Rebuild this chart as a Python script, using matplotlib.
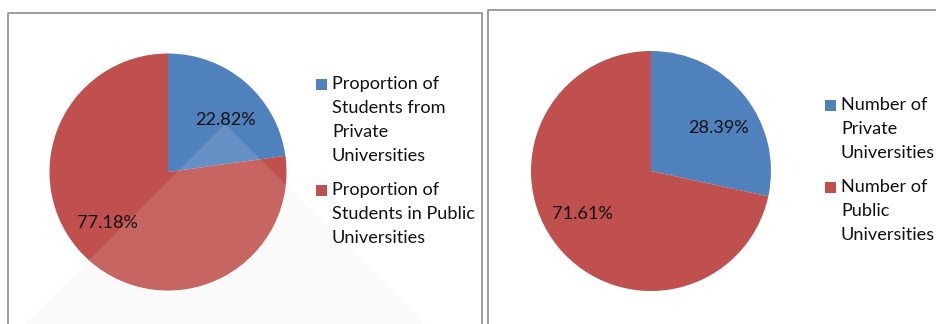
import numpy as np
import matplotlib
matplotlib.use('Agg')
import matplotlib.pyplot as plt
from matplotlib.patches import Polygon, Circle, Rectangle

plt.rcParams['font.family'] = ['Lato', 'DejaVu Sans']

# data
studentLabels = ['Proportion of\nStudents from\nPrivate\nUniversities',
                 'Proportion of\nStudents in Public\nUniversities']
studentShares = [22.82, 77.18]
univLabels = ['Number of\nPrivate\nUniversities',
              'Number of\nPublic\nUniversities']
univShares = [28.39, 71.61]
colors = ['#4F81BD', '#C0504D']

W, H = 937, 324
FS = 13.1
fig = plt.figure(figsize=(W/100, H/100), dpi=100)

def pixelAxes(z):
    a = fig.add_axes([0, 0, 1, 1], zorder=z)
    a.set_xlim(0, W)
    a.set_ylim(H, 0)
    a.axis('off')
    return a

bg = pixelAxes(0)
top = pixelAxes(5)

# panel borders (pixel coords)
bc = '#8c8c8c'
bg.plot([8.5, 8.5, 482, 482], [H, 12.5, 12.5, H], color=bc, lw=1.2)
bg.plot([488.5, 488.5, W], [H, 9.5, 9.5], color=bc, lw=1.2)

# faint glare shadow behind the left pie
apex = (225, 124)
glare = Polygon([apex, (apex[0] - 300, apex[1] + 300), (apex[0], apex[1] + 600),
                 (apex[0] + 300, apex[1] + 300)], closed=True,
                facecolor='#fafafa', edgecolor='none', zorder=0)
bg.add_patch(glare)
glare.set_clip_path(Rectangle((9, 13), 472, 320, transform=bg.transData))

def drawPie(cx, cy, r, shares, pctPos, glareApex=None):
    ax = fig.add_axes([(cx - r)/W, (H - cy - r)/H, 2*r/W, 2*r/H], zorder=2)
    wedges, _ = ax.pie(shares, colors=colors, startangle=90, counterclock=False,
                       radius=1, wedgeprops=dict(linewidth=0))
    ax.set_xlim(-1, 1)
    ax.set_ylim(-1, 1)
    ax.axis('off')
    if glareApex is not None:
        gx = (glareApex[0] - cx)/r
        gy = (cy - glareApex[1])/r
        d = 4
        poly = Polygon([(gx, gy), (gx - d, gy - d), (gx, gy - 2*d), (gx + d, gy - d)],
                       closed=True, facecolor='white', alpha=0.12, edgecolor='none', zorder=3)
        ax.add_patch(poly)
        poly.set_clip_path(Circle((0, 0), 1, transform=ax.transData))
    for s, (px, py) in zip(shares, pctPos):
        top.text(px, py, '%.2f%%' % s, ha='center', va='center', fontsize=FS, color='#111111')

def drawLegend(x, ys, labels):
    for lab, y0, c in zip(labels, ys, colors):
        top.add_patch(Rectangle((x, y0 - 5), 11, 11, facecolor=c, edgecolor='none'))
        for i, line in enumerate(lab.split('\n')):
            top.text(x + 16, y0 + 24*i, line, ha='left', va='center', fontsize=FS, color='#111111')

drawPie(168, 172, 118.5, studentShares, [(225, 120), (107, 223)], glareApex=apex)
drawPie(651, 171, 120, univShares, [(718, 128), (582, 214)])
drawLegend(316, [84, 190], studentLabels)
drawLegend(825, [105, 187], univLabels)

fig.savefig('out.png', dpi=100)
